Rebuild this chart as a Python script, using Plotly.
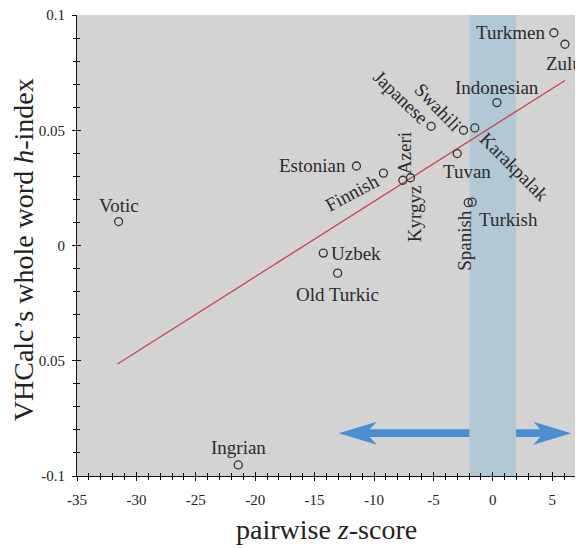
import plotly.graph_objects as go

# ---------------- data ----------------
languages = ["Votic", "Ingrian", "Estonian", "Finnish", "Azeri", "Kyrgyz", "Japanese",
             "Swahili", "Karakpalak", "Tuvan", "Indonesian", "Turkmen", "Zulu",
             "Spanish", "Turkish", "Uzbek", "Old Turkic"]
z_scores = [-31.5, -21.43, -11.48, -9.21, -7.57, -6.93, -5.19,
            -2.47, -1.52, -3.0, 0.34, 5.14, 6.07,
            -2.07, -1.74, -14.27, -13.06]
h_index = [0.0104, -0.0952, 0.0345, 0.0314, 0.0283, 0.0294, 0.0517,
           0.0500, 0.0510, 0.0399, 0.0620, 0.0923, 0.0873,
           0.0186, 0.0188, -0.0033, -0.0120]

fit_x = [-31.59, 6.07]
fit_y = [-0.0514, 0.0716]

band_x = [-1.96, 1.96]          # non-significant z band
arrow_y = -0.0814
arrow_left = [-1.96, -12.97]    # shaft start, tip
arrow_right = [1.96, 6.6]

x_ticks = [-35, -30, -25, -20, -15, -10, -5, 0, 5]
x_tick_text = ["-35", "-30", "-25", "-20", "-15", "-10", "-5", "0", "5"]
y_ticks = [0.1, 0.05, 0, -0.05, -0.1]
y_tick_text = ["0.1", "0.05", "0", "0.05", "-0.1"]

# label placement (style): anchor, dx px, dy px (down positive), angle
label_style = {
    "Votic": ("center", 0, -16, 0),
    "Ingrian": ("center", 0, -17, 0),
    "Estonian": ("right", -8, 0, 0),
    "Finnish": ("center", -31, 19, -28),
    "Azeri": ("center", 1, -27, -90),
    "Kyrgyz": ("center", 4, 36, -90),
    "Japanese": ("center", -30, -29, 44),
    "Swahili": ("center", -25, -23, 46),
    "Karakpalak": ("center", 39, 39, 45),
    "Tuvan": ("center", 10, 18, 0),
    "Indonesian": ("center", 0, -15, 0),
    "Turkmen": ("right", -7, 0, 0),
    "Zulu": ("center", -1, 19, 0),
    "Spanish": ("center", -4, 38, -90),
    "Turkish": ("left", 5, 17, 0),
    "Uzbek": ("left", 6, 0, 0),
    "Old Turkic": ("center", 0, 21, 0),
}

FONT = "Liberation Serif, Times New Roman, serif"
X_RANGE = [-35, 7]
Y_RANGE = [-0.1, 0.1]
# page body has an 8px margin: figure is placed at (8, 8)
L, R, T, B = 69, 7, 7, 72
W, H = 575, 540
px_x = (X_RANGE[1] - X_RANGE[0]) / (W - L - R)
px_y = (Y_RANGE[1] - Y_RANGE[0]) / (H - T - B)

fig = go.Figure()

# band
fig.add_shape(type="rect", xref="x", yref="y", x0=band_x[0], x1=band_x[1],
              y0=Y_RANGE[0], y1=Y_RANGE[1], fillcolor="#b3c8d5",
              line_width=0, layer="below")


def arrow_poly(start, tip, y):
    d = 1 if tip > start else -1
    head_len = 38 * px_x
    notch = 7 * px_x
    hh = 11.5 * px_y
    sh = 3.8 * px_y
    base = tip - d * head_len
    nb = tip - d * (head_len - notch)
    xs = [tip, base, nb, start, start, nb, base, tip]
    ys = [y, y + hh, y + sh, y + sh, y - sh, y - sh, y - hh, y]
    return xs, ys


for a in (arrow_left, arrow_right):
    ax_, ay_ = arrow_poly(a[0], a[1], arrow_y)
    fig.add_trace(go.Scatter(x=ax_, y=ay_, mode="lines", fill="toself",
                             fillcolor="#4b8fd2", line=dict(width=0, color="#4b8fd2"),
                             hoverinfo="skip", showlegend=False))

# fit line
fig.add_trace(go.Scatter(x=fit_x, y=fit_y, mode="lines",
                         line=dict(color="#c9424b", width=1.3),
                         showlegend=False, hoverinfo="skip"))

# points
fig.add_trace(go.Scatter(x=z_scores, y=h_index, mode="markers",
                         marker=dict(symbol="circle-open", size=8,
                                     color="#333333", line=dict(width=1.3, color="#333333")),
                         text=languages, showlegend=False, cliponaxis=False))

# dummy trace for overlay axes (inside ticks)
fig.add_trace(go.Scatter(x=[None], y=[None], xaxis="x2", yaxis="y2",
                         showlegend=False, hoverinfo="skip"))

for name, x, y in zip(languages, z_scores, h_index):
    anchor, dx, dy, ang = label_style[name]
    fig.add_annotation(x=x, y=y, xref="x", yref="y", text=name, showarrow=False,
                       xanchor=anchor, yanchor="middle", xshift=dx, yshift=-dy,
                       textangle=ang, font=dict(family=FONT, size=19, color="#2b2b2b"))

# axis titles
fig.add_annotation(x=0.5, y=-0.117, xref="paper", yref="paper", yanchor="middle",
                   text="pairwise <i>z</i>-score", showarrow=False,
                   font=dict(size=28, family=FONT, color="#222222"))
fig.add_annotation(x=-0.108, y=0.49, xref="paper", yref="paper", xanchor="center",
                   yanchor="middle", textangle=-90,
                   text="VHCalc’s whole word <i>h</i>-index", showarrow=False,
                   font=dict(size=28, family=FONT, color="#222222"))

fig.update_layout(
    width=W, height=H,
    margin=dict(l=L, r=R, t=T, b=B),
    paper_bgcolor="white", plot_bgcolor="#d3d3d3",
    font=dict(family=FONT, color="#222222"),
    xaxis=dict(range=X_RANGE, tickvals=x_ticks, ticktext=x_tick_text, showgrid=False,
               zeroline=False, automargin=False, ticklabeloverflow="allow",
               showline=True, linecolor="#111111", linewidth=1,
               ticks="outside", ticklen=4, tickcolor="#111111",
               minor=dict(dtick=1, ticks="outside", ticklen=3, tickcolor="#111111"),
               tickfont=dict(size=15, family=FONT), ticklabelstandoff=6),
    yaxis=dict(range=Y_RANGE, tickvals=y_ticks, ticktext=y_tick_text, showgrid=False,
               zeroline=False, automargin=False, ticklabeloverflow="allow",
               showline=True, linecolor="#111111",
               linewidth=1, ticks="outside", ticklen=4, tickcolor="#111111",
               minor=dict(dtick=0.01, ticks="outside", ticklen=3, tickcolor="#111111"),
               tickfont=dict(size=15, family=FONT), ticklabelstandoff=4),
    xaxis2=dict(overlaying="x", anchor="y", side="bottom", range=X_RANGE,
                tickvals=x_ticks, showticklabels=False, showgrid=False, zeroline=False,
                automargin=False,
                ticks="inside", ticklen=4, tickcolor="#111111",
                minor=dict(dtick=1, ticks="inside", ticklen=3, tickcolor="#111111")),
    yaxis2=dict(overlaying="y", anchor="x", side="left", range=Y_RANGE,
                tickvals=y_ticks, showticklabels=False, showgrid=False, zeroline=False,
                automargin=False,
                ticks="inside", ticklen=4, tickcolor="#111111",
                minor=dict(dtick=0.01, ticks="inside", ticklen=3, tickcolor="#111111")),
)

fig.write_html("out.html")
